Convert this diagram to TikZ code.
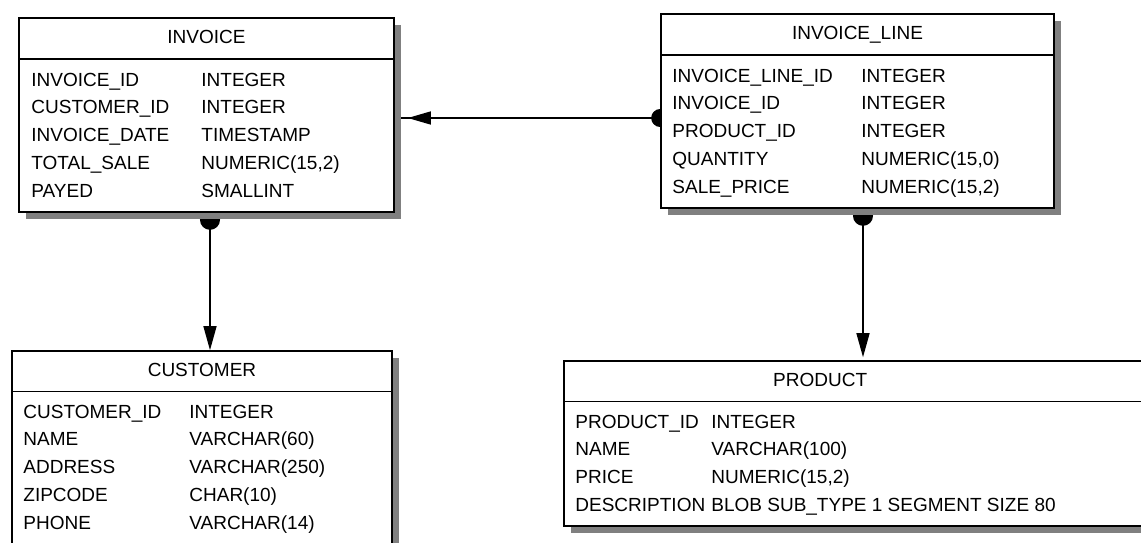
\documentclass[tikz,border=0pt]{standalone}
\usepackage{fontspec}
\setmainfont{Liberation Sans}
\usepackage{array}
\usetikzlibrary{arrows.meta}
\usetikzlibrary{shadows}
\pgfdeclarelayer{background}
\pgfsetlayers{background,main}

\tikzset{
  entity/.style={draw=black, fill=white, line width=1.6pt, inner sep=0pt,
    drop shadow={shadow xshift=7pt, shadow yshift=-7pt, fill=gray, opacity=1}},
  headline/.style={black, line width=1.4pt},
  tabletitle/.style={font=\fontsize{19}{27.75}\selectfont, text=black, anchor=base, inner sep=0pt},
  fields/.style={font=\fontsize{19}{27.75}\selectfont, text=black, anchor=base west, inner sep=0pt},
  fk/.style={black, line width=1.4pt}
}
\renewcommand{\arraystretch}{1}

\begin{document}
\begin{tikzpicture}[x=1pt,y=-1pt]
\clip (0,0) rectangle (1141,543);

% tables
\node[entity, minimum width=375pt, minimum height=194pt] (invoice) at (206.5,115) {};
\node[entity, minimum width=393pt, minimum height=194pt] (invoice_line) at (857.5,111) {};
\node[entity, minimum width=380pt, minimum height=219pt] (customer) at (202,460.5) {};
\node[entity, minimum width=606pt, minimum height=165pt] (product) at (867,443.5) {};

% header lines
\draw[headline] ([yshift=-42pt]invoice.north west) -- ([yshift=-42pt]invoice.north east);
\draw[headline] ([yshift=-42pt]invoice_line.north west) -- ([yshift=-42pt]invoice_line.north east);
\draw[headline] ([yshift=-41pt]customer.north west) -- ([yshift=-41pt]customer.north east);
\draw[headline] ([yshift=-41pt]product.north west) -- ([yshift=-41pt]product.north east);

% titles
\node[tabletitle] (invoice_title) at ([yshift=-26pt]invoice.north) {INVOICE};
\node[tabletitle] (invoice_line_title) at ([yshift=-26pt]invoice_line.north) {INVOICE\_LINE};
\node[tabletitle] (customer_title) at ([yshift=-26pt]customer.north) {CUSTOMER};
\node[tabletitle] (product_title) at ([xshift=257pt,yshift=-26pt]product.north west) {PRODUCT};

% columns
\node[fields] (invoice_fields) at ([xshift=13pt,yshift=-69pt]invoice.north west) {%
\begin{tabular}[t]{@{}p{170pt}@{}l@{}}
INVOICE\_ID & INTEGER\\
CUSTOMER\_ID & INTEGER\\
INVOICE\_DATE & TIMESTAMP\\
TOTAL\_SALE & NUMERIC(15,2)\\
PAYED & SMALLINT
\end{tabular}};
\node[fields] (invoice_line_fields) at ([xshift=12pt,yshift=-69pt]invoice_line.north west) {%
\begin{tabular}[t]{@{}p{189pt}@{}l@{}}
INVOICE\_LINE\_ID & INTEGER\\
INVOICE\_ID & INTEGER\\
PRODUCT\_ID & INTEGER\\
QUANTITY & NUMERIC(15,0)\\
SALE\_PRICE & NUMERIC(15,2)
\end{tabular}};
\node[fields] (customer_fields) at ([xshift=12pt,yshift=-68pt]customer.north west) {%
\begin{tabular}[t]{@{}p{166pt}@{}l@{}}
CUSTOMER\_ID & INTEGER\\
NAME & VARCHAR(60)\\
ADDRESS & VARCHAR(250)\\
ZIPCODE & CHAR(10)\\
PHONE & VARCHAR(14)
\end{tabular}};
\node[fields] (product_fields) at ([xshift=12pt,yshift=-68pt]product.north west) {%
\begin{tabular}[t]{@{}p{136pt}@{}l@{}}
PRODUCT\_ID & INTEGER\\
NAME & VARCHAR(100)\\
PRICE & NUMERIC(15,2)\\
DESCRIPTION & BLOB SUB\_TYPE 1 SEGMENT SIZE 80
\end{tabular}};

% links
\coordinate (link1) at ([yshift=-7pt]invoice_line.west);
\coordinate (link2) at ([xshift=3.5pt]invoice.south);
\coordinate (link3) at ([xshift=5.5pt]invoice_line.south);
\begin{pgfonlayer}{background}
\draw[fk, shorten <=-9pt, {Circle[length=18pt]}-{Triangle[length=23pt,width=13pt,sep=0pt]Rectangle[length=13pt,width=0.1pt]}]
  (link1) -- (link1 -| invoice.east);
\draw[fk, shorten <=-3pt, {Circle[length=20pt]}-{Triangle[length=24pt,width=13pt]}]
  (link2) -- (link2 |- customer.north);
\draw[fk, shorten <=-3pt, {Circle[length=20pt]}-{Triangle[length=24pt,width=13pt]}]
  (link3) -- ([yshift=3pt]link3 |- product.north);
\end{pgfonlayer}
\end{tikzpicture}
\end{document}
